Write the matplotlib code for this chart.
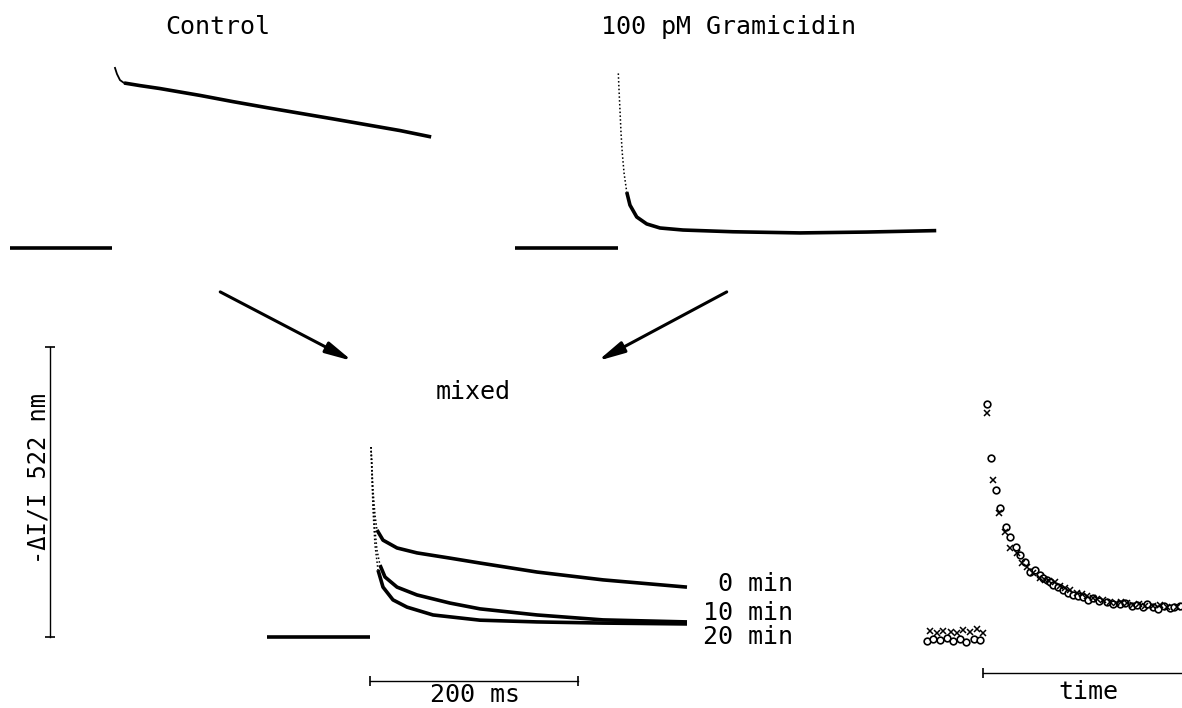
import numpy as np
import matplotlib
matplotlib.use('Agg')
import matplotlib.pyplot as plt

# figure size in pixels and the common scale of every panel
W, H = 1182, 708
PX_MS = 1.04    # pixels per ms (200 ms bar = 208 px)
PX_S = 290.0    # pixels per signal unit (vertical bar = 1 unit)

# Control: time (ms) and -dI/I (a.u.)
ctrl_base_t = [-101, -3]
ctrl_base_s = [0.0, 0.0]
ctrl_t = [0.0, 1.9, 4.8, 8.7, 24, 43, 82, 113, 146, 210, 274, 304]
ctrl_s = [0.621, 0.600, 0.579, 0.569, 0.560, 0.550, 0.526, 0.505, 0.484, 0.445, 0.405, 0.383]

# 100 pM Gramicidin
gram_base_t = [-99, 0]
gram_base_s = [0.0, 0.0]
gram_t = [0.3, 1.2, 1.9, 2.9, 4.1, 5.8, 8.4, 11.5, 18.0, 27.6, 40.4, 62.5, 110.6, 175, 239, 306]
gram_s = [0.602, 0.528, 0.476, 0.397, 0.328, 0.259, 0.193, 0.148, 0.107, 0.083, 0.069, 0.062,
          0.056, 0.052, 0.055, 0.060]

# mixed, after 0 / 10 / 20 min
mix_base_t = [-99, 0]
mix_base_s = [0.0, 0.0]
mix0_t = [1.0, 2.9, 4.8, 6.7, 12.5, 26.0, 45.2, 76.9, 105.8, 160.6, 224.0, 304.8]
mix0_s = [0.655, 0.507, 0.421, 0.369, 0.334, 0.307, 0.290, 0.272, 0.255, 0.224, 0.197, 0.172]
mix10_t = [1.0, 2.9, 4.8, 6.7, 9.6, 14.4, 26.0, 45.2, 76.9, 105.8, 160.6, 224.0, 304.8]
mix10_s = [0.655, 0.472, 0.369, 0.300, 0.248, 0.207, 0.172, 0.145, 0.117, 0.097, 0.076, 0.059, 0.052]
mix20_t = [1.0, 2.9, 4.8, 7.7, 12.5, 22.1, 35.6, 60.6, 105.8, 160.6, 224.0, 304.8]
mix20_s = [0.655, 0.438, 0.317, 0.231, 0.172, 0.128, 0.103, 0.076, 0.058, 0.052, 0.048, 0.045]
mix_labels = ['0 min', '10 min', '20 min']
mix_label_s = [0.183, 0.083, 0.0]

# time panel, circles and crosses
circ_base_t = [-56, -50, -43, -37, -31, -24, -18, -11, -5]
circ_base_s = [-0.017, -0.010, -0.014, -0.007, -0.017, -0.010, -0.021, -0.010, -0.014]
cross_base_t = [-53, -46, -40, -33, -27, -21, -14, -8, -2]
cross_base_s = [0.017, 0.010, 0.017, 0.014, 0.010, 0.021, 0.014, 0.024, 0.010]
circ_t = [1.9, 5.8, 10.6, 14.4, 20.2, 24.0, 29.8, 33.7, 38.5, 43.3, 48.1, 52.9, 56.0, 59.6,
          62.5, 65.4, 70.0, 75.0, 80.0, 84.6, 89.0, 94.2, 99.0, 103.8, 110.0, 117.3, 123.0,
          129.8, 135.0, 141.0, 146.2, 152.0, 156.0, 161.5, 166.0, 172.0, 177.9, 182.0, 187.5]
circ_s = [0.800, 0.614, 0.503, 0.441, 0.376, 0.341, 0.307, 0.279, 0.255, 0.221, 0.228, 0.210,
          0.200, 0.193, 0.186, 0.176, 0.169, 0.159, 0.148, 0.141, 0.138, 0.134, 0.124, 0.131,
          0.121, 0.117, 0.110, 0.110, 0.114, 0.103, 0.107, 0.100, 0.110, 0.100, 0.093, 0.103,
          0.097, 0.100, 0.103]
cross_t = [1.9, 7.7, 13.5, 19.2, 24.0, 30.8, 35.6, 40.0, 46.2, 52.9, 58.0, 62.0, 67.3, 72.0,
           77.0, 81.7, 88.0, 93.0, 98.1, 104.0, 108.0, 113.5, 120.0, 126.0, 131.0, 136.5,
           142.0, 148.0, 154.0, 161.5, 168.0, 175.0, 184.6]
cross_s = [0.769, 0.538, 0.424, 0.359, 0.303, 0.286, 0.252, 0.238, 0.217, 0.200, 0.193, 0.190,
           0.186, 0.172, 0.165, 0.159, 0.148, 0.145, 0.138, 0.131, 0.128, 0.124, 0.117, 0.114,
           0.117, 0.114, 0.107, 0.110, 0.103, 0.103, 0.107, 0.100, 0.100]

FONT = 'DejaVu Sans Mono'
plt.rcParams['font.family'] = FONT
LW = 2.6


def panel(fig, x0, yb):
    '''axes over the whole figure, t=0 at pixel x0 and baseline at pixel row yb'''
    ax = fig.add_axes([0, 0, 1, 1])
    ax.set_xlim(-x0 / PX_MS, (W - x0) / PX_MS)
    ax.set_ylim((yb - H) / PX_S, yb / PX_S)
    ax.axis('off')
    ax.patch.set_alpha(0)
    return ax


def thick(ax, t, s):
    ax.plot(t, s, color='k', lw=LW, solid_capstyle='butt', solid_joinstyle='round')


def trace(ax, t, s, nfast):
    # fast rise drawn as thin dots, the rest as a thick band
    ax.plot(t[:nfast + 1], s[:nfast + 1], color='k', lw=1.1, ls=(0, (1, 1.5)))
    thick(ax, t[nfast:], s[nfast:])


fig = plt.figure(figsize=(W / 100, H / 100), dpi=100)

# Control
ax1 = panel(fig, 115, 248)
thick(ax1, ctrl_base_t, ctrl_base_s)
ax1.plot(ctrl_t[:4], ctrl_s[:4], color='k', lw=1.3, solid_joinstyle='round')
thick(ax1, ctrl_t[3:], ctrl_s[3:])
ax1.text(99, 0.762, 'Control', ha='center', va='center', fontsize=18)

# Gramicidin
ax2 = panel(fig, 618, 248)
thick(ax2, gram_base_t, gram_base_s)
trace(ax2, gram_t, gram_s, 6)
ax2.text(106, 0.762, '100 pM Gramicidin', ha='center', va='center', fontsize=18)

# mixed
ax3 = panel(fig, 370, 637)
thick(ax3, mix_base_t, mix_base_s)
trace(ax3, mix0_t, mix0_s, 3)
trace(ax3, mix10_t, mix10_s, 4)
trace(ax3, mix20_t, mix20_s, 3)
for lab, ls in zip(mix_labels, mix_label_s):
    ax3.text(407, ls, lab, ha='right', va='center', fontsize=18)
ax3.text(99, 0.845, 'mixed', ha='center', va='center', fontsize=18)

# arrows into the mixed panel
arr = dict(arrowstyle='-|>,head_length=1.6,head_width=0.35', color='k', lw=2.2,
           shrinkA=0, shrinkB=0)
ax3.annotate('', xy=(-17, 0.952), xytext=(-144, 1.19), arrowprops=arr)
ax3.annotate('', xy=(219, 0.952), xytext=(343, 1.19), arrowprops=arr)

# vertical scale bar and label
ax3.plot([-307.7, -307.7], [0.0, 1.0], color='k', lw=1.0)
ax3.plot([-307.7, -307.7], [0.0, 1.0], ls='none', marker='_', ms=7, mew=1.2, color='k')
ax3.text(-319, 0.545, '-\u0394I/I 522 nm', rotation=90, ha='center', va='center', fontsize=17)

# 200 ms bar
ax3.plot([0, 200], [-0.152, -0.152], color='k', lw=1.0)
ax3.plot([0, 200], [-0.152, -0.152], ls='none', marker='|', ms=7, mew=1.2, color='k')
ax3.text(101, -0.2, '200 ms', ha='center', va='center', fontsize=18)

# time panel
ax4 = panel(fig, 985, 636)
ax4.plot(circ_base_t + circ_t, circ_base_s + circ_s, ls='none', marker='o', ms=4.8,
         mfc='white', mec='k', mew=1.2)
ax4.plot(cross_base_t + cross_t, cross_base_s + cross_s, ls='none', marker='x', ms=4.0,
         color='k', mew=1.1)
ax4.plot([-2, 200], [-0.128, -0.128], color='k', lw=1.0)
ax4.plot([-2], [-0.128], ls='none', marker='|', ms=7, mew=1.2, color='k')
ax4.text(99, -0.193, 'time', ha='center', va='center', fontsize=18)

fig.savefig('out.png', dpi=100)
